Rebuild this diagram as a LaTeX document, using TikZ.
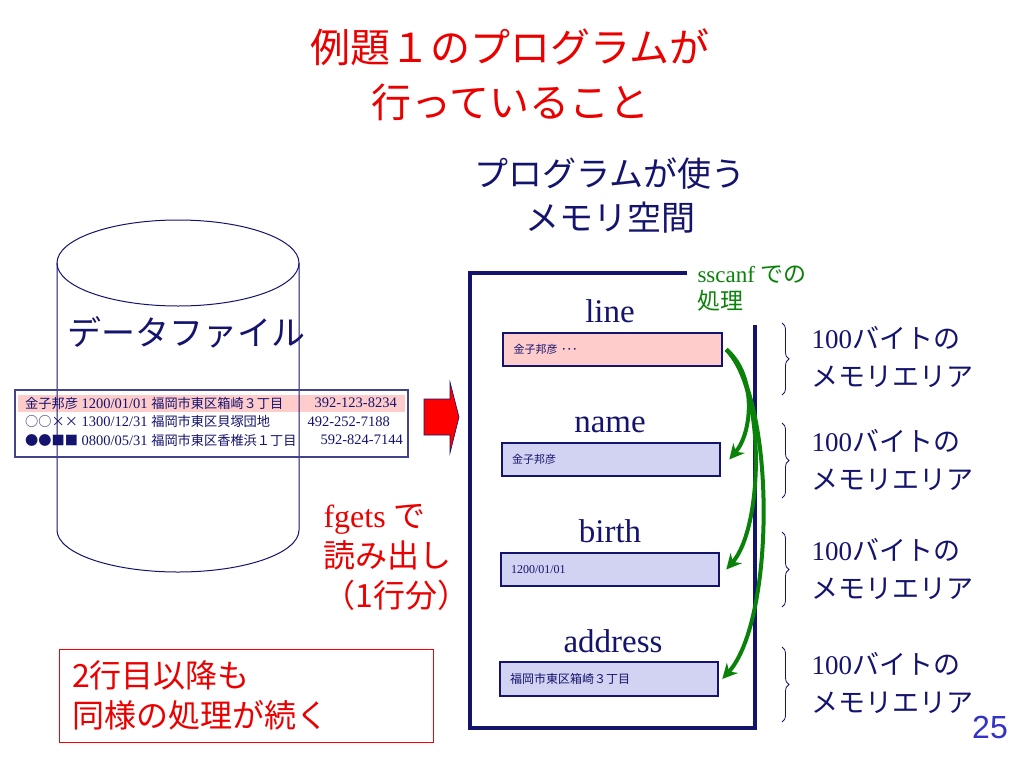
\documentclass[tikz,border=0pt]{standalone}
\usepackage{fontspec}
\setmainfont{Liberation Serif}
\newfontfamily\jp{Noto Sans CJK JP}
\newfontfamily\arial{Liberation Sans}
\usetikzlibrary{arrows.meta,decorations.pathreplacing}
\definecolor{mynavy}{RGB}{20,20,110}
\definecolor{titlered}{RGB}{235,0,0}
\definecolor{pinkfill}{RGB}{255,204,204}
\definecolor{lavfill}{RGB}{210,210,242}
\definecolor{mygreen}{RGB}{10,130,10}
\definecolor{pageblue}{RGB}{50,50,200}
\newcommand{\smjp}[1]{{\jp\fontsize{13.2}{16}\selectfont #1}}
\begin{document}
\begin{tikzpicture}[x=1pt,y=-1pt,
  cyl/.style={draw=mynavy, line width=1pt},
  membox/.style={draw=mynavy, line width=2.5pt, minimum height=33pt, text width=198pt, inner xsep=10pt, align=left, text=mynavy, font={\jp\fontsize{11}{13}\selectfont}},
  varlab/.style={anchor=base, text=mynavy, font={\rmfamily\fontsize{33}{36}\selectfont}},
  garrow/.style={draw=mygreen, line width=4pt, -{Stealth[length=15pt,width=15pt]}},
  bracestyle/.style={draw=mynavy, line width=0.8pt, decorate, decoration={brace, amplitude=7pt}},
  sizelab/.style={anchor=west, align=left, text=mynavy, font={\fontsize{27}{38}\selectfont}},
  rowtext/.style={anchor=west, text=mynavy, font={\fontsize{14.5}{16}\selectfont}, inner sep=0pt},
  phone/.style={anchor=east, text=mynavy, font={\rmfamily\fontsize{14.5}{16}\selectfont}, inner sep=0pt}
]
\useasboundingbox (0,0) rectangle (1024,768);
\fill[white] (0,0) rectangle (1024,768);

% titles
\node[align=center, text=titlered, font={\jp\fontsize{40}{55}\selectfont}] (title) at (510,75) {例題１のプログラムが\\行っていること};
\node[align=center, text=mynavy, font={\jp\fontsize{34}{44}\selectfont}] (memtitle) at (610,195) {プログラムが使う\\メモリ空間};

% data file cylinder
\fill[pinkfill] (18,395) rectangle (405,412);
\draw[cyl] (57,263) -- (57,530) arc[start angle=180, end angle=0, x radius=121, y radius=42] -- (299,263);
\draw[cyl] (178,263) ellipse[x radius=121, y radius=43];
\node[text=mynavy, font={\jp\fontsize{34}{40}\selectfont}] (filelabel) at (186,332) {データファイル};

% data rows
\node[draw=mynavy!80, line width=1.2pt, minimum width=393pt, minimum height=67pt] (databox) at (211.5,423.5) {};
\node[rowtext] (r1) at (25,403) {\smjp{金子邦彦} 1200/01/01 \smjp{福岡市東区箱崎３丁目}};
\node[phone] (p1) at (397,403) {392-123-8234};
\node[rowtext] (r2) at (25,421.5) {\smjp{○○××} 1300/12/31 \smjp{福岡市東区貝塚団地}};
\node[phone] (p2) at (390,421.5) {492-252-7188};
\node[rowtext] (r3) at (25,440) {\smjp{●●■■} 0800/05/31 \smjp{福岡市東区香椎浜１丁目}};
\node[phone] (p3) at (403,440) {592-824-7144};

% red arrow
\draw[fill=red, draw=mynavy, line width=0.6pt] (424,399) -- (450,399) -- (450,382) -- (459,417) -- (450,453) -- (450,435) -- (424,435) -- cycle;

% fgets label
\node[anchor=west, align=left, text=titlered, font={\fontsize{32}{40}\selectfont}] (fgets) at (320,557) {fgets {\jp で}\\{\jp 読み出し}\\{\jp （1行分）}};

% note box
\node[draw=red, line width=1pt, minimum width=374pt, minimum height=93pt, text width=348pt, inner xsep=13pt, align=left, text=titlered, font={\jp\fontsize{32}{40}\selectfont}] (note) at (246,695.5) {2行目以降も\\同様の処理が続く};

% memory space outline
\draw[mynavy, line width=4pt] (687,273) -- (470,273) -- (470,728) -- (755,728) -- (755,325);

% memory boxes
\node[membox, fill=pinkfill, minimum width=219pt] (linebox) at (612.5,349.5) {金子邦彦\ ･･･};
\node[membox, fill=lavfill] (namebox) at (611,459.5) {金子邦彦};
\node[membox, fill=lavfill, font={\rmfamily\fontsize{12}{14}\selectfont}] (birthbox) at (610,569.5) {1200/01/01};
\node[membox, fill=lavfill, minimum height=34pt, font={\jp\fontsize{12}{14}\selectfont}] (addrbox) at (609,679) {福岡市東区箱崎３丁目};

\node[varlab] (linelab) at (610,322) {line};
\node[varlab] (namelab) at (610,432) {name};
\node[varlab] (birthlab) at (610,542) {birth};
\node[varlab] (addrlab) at (613,652) {address};

% sscanf label
\node[anchor=west, align=left, text=mygreen, font={\fontsize{23}{27}\selectfont}] (sscanf) at (694,289) {sscanf {\jp での}\\{\jp 処理}};

% green arrows
\draw[garrow] ([xshift=3pt]linebox.east) .. controls +(30,25) and +(24,-28) .. ([xshift=8pt]namebox.east);
\draw[garrow] ([xshift=3pt]linebox.east) .. controls +(40,40) and +(37,-42) .. ([xshift=6pt]birthbox.east);
\draw[garrow] ([xshift=3pt]linebox.east) .. controls +(50,50) and +(53,-58) .. ([xshift=3pt]addrbox.east);

% braces and size labels
\draw[bracestyle] (782,323) -- (782,395);
\draw[bracestyle] (782,423) -- (782,498);
\draw[bracestyle] (782,532) -- (782,607);
\draw[bracestyle] (782,647) -- (782,722);
\node[sizelab] (s1) at (808,357) {100{\jp バイトの}\\{\jp メモリエリア}};
\node[sizelab] (s2) at (808,460) {100{\jp バイトの}\\{\jp メモリエリア}};
\node[sizelab] (s3) at (808,569) {100{\jp バイトの}\\{\jp メモリエリア}};
\node[sizelab] (s4) at (808,683) {100{\jp バイトの}\\{\jp メモリエリア}};

% page number
\node[text=pageblue, font={\arial\fontsize{32}{36}\selectfont}] (pagenum) at (990,727) {25};
\end{tikzpicture}
\end{document}
